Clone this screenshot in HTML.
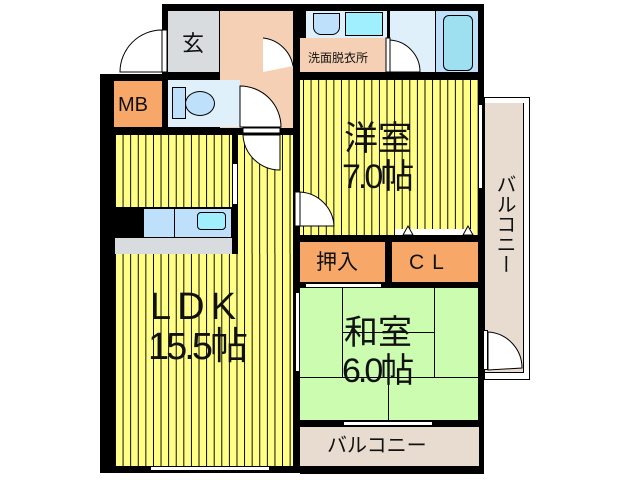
<!DOCTYPE html>
<html><head><meta charset="utf-8"><style>
body{margin:0;width:638px;height:480px;background:#fff;position:relative;overflow:hidden;font-family:"Liberation Sans","Noto Sans CJK JP",sans-serif;}
div{position:absolute;box-sizing:border-box;}
.k{background:#000}
.st{background-color:#ffff88;background-image:linear-gradient(90deg,#000 0 1px,transparent 1px);background-size:7.6px 100%;background-repeat:repeat-x;}
.t{color:#111;white-space:nowrap;line-height:1;}
svg{position:absolute;left:0;top:0}
</style></head><body>
<div class="k" style="left:162px;top:4px;width:322px;height:469px"></div>
<div class="k" style="left:100px;top:74px;width:68px;height:399px"></div>
<!-- genkan -->
<div style="left:168px;top:11px;width:52px;height:61px;background:#d9dcdf;border-right:1px solid #000"></div>
<div class="t" style="left:182px;top:33px;font-size:22px">玄</div>
<!-- hall -->
<div style="left:220px;top:11px;width:73px;height:117px;background:#f6d0b4"></div>
<!-- senmen -->
<div style="left:300px;top:11px;width:87px;height:61px;background:#f6d0b4"></div>
<div style="left:300px;top:11px;width:87px;height:27px;background:#dff0fb"></div>
<div style="left:313px;top:13px;width:27px;height:22px;background:#bfe0fb;border:1px solid #000;border-radius:0 0 8px 8px"></div>
<div style="left:345px;top:12px;width:38px;height:24px;background:#9fefff;border:1px solid #000"></div>
<div class="k" style="left:293px;top:11px;width:13px;height:27px"></div>
<div class="t" style="left:308px;top:52px;font-size:12px">洗面脱衣所</div>
<!-- bath -->
<div style="left:390px;top:11px;width:88px;height:61px;background:#dff0fb"></div>
<div style="left:435px;top:11px;width:43px;height:61px;background:#bfe0fb;border-left:1px solid #000"></div>
<div style="left:443px;top:15px;width:30px;height:56px;background:#9fe0f0;border:1px solid #000;border-radius:6px"></div>
<!-- MB -->
<div style="left:114px;top:81px;width:48px;height:46px;background:#f7a868"></div>
<div class="t" style="left:118px;top:95px;font-size:20px">MB</div>
<!-- toilet -->
<div style="left:168px;top:80px;width:72px;height:47px;background:#dff0fb"></div>
<div style="left:172px;top:87px;width:14px;height:32px;background:#bfe0fb;border:1px solid #000"></div>
<div style="left:185px;top:91px;width:30px;height:25px;background:#bfe0fb;border:1px solid #000;border-radius:50%"></div>
<!-- LDK -->
<div class="st" style="left:115px;top:135px;width:117px;height:72px;background-position:0 0"></div>
<div class="st" style="left:238px;top:135px;width:55px;height:331px;background-position:6px 0"></div>
<div class="st" style="left:115px;top:254px;width:178px;height:212px;background-position:0 0"></div>
<div style="left:232px;top:163px;width:6px;height:42px;background:#fff;border:1px solid #000"></div>
<div class="k" style="left:115px;top:207px;width:28px;height:31px"></div>
<div style="left:143px;top:208px;width:89px;height:30px;background:#bfe0fb;border:1px solid #000"></div>
<div style="left:174px;top:208px;width:1px;height:30px;background:#000"></div>
<div style="left:197px;top:212px;width:29px;height:18px;background:#9fefff;border:1px solid #000;border-radius:4px"></div>
<div style="left:115px;top:238px;width:117px;height:16px;background:#d9dcdf"></div>
<div class="t" style="left:150px;top:288px;font-size:38px;letter-spacing:6px">LDK</div>
<div class="t" style="left:148px;top:328px;font-size:38px;letter-spacing:-3px">15.5帖</div>
<div style="left:150px;top:466px;width:120px;height:5px;background:#fff;border:1px solid #000"></div>
<!-- youshitsu -->
<div class="st" style="left:300px;top:80px;width:178px;height:155px;background-position:3px 0"></div>
<div style="left:395px;top:229px;width:78px;height:6px;background:#fff"></div>
<div class="t" style="left:344px;top:122px;font-size:34px">洋室</div>
<div class="t" style="left:342px;top:160px;font-size:34px;letter-spacing:-3px">7.0帖</div>
<div style="left:478px;top:104px;width:5px;height:85px;background:#fff;border:1px solid #000"></div>
<!-- oshiire / CL -->
<div style="left:300px;top:242px;width:85px;height:40px;background:#f7a868"></div>
<div style="left:392px;top:242px;width:86px;height:40px;background:#f7a868"></div>
<div class="t" style="left:316px;top:252px;font-size:21px">押入</div>
<div class="t" style="left:409px;top:252px;font-size:21px;letter-spacing:8px">CL</div>
<!-- washitsu -->
<div style="left:300px;top:288px;width:178px;height:132px;background:#ccfcb0"></div>
<div style="left:342px;top:288px;width:1px;height:89px;background:#000"></div>
<div style="left:434px;top:288px;width:1px;height:89px;background:#000"></div>
<div style="left:342px;top:332px;width:92px;height:1px;background:#000"></div>
<div style="left:300px;top:377px;width:178px;height:1px;background:#000"></div>
<div style="left:388px;top:377px;width:1px;height:43px;background:#000"></div>
<div style="left:305px;top:283px;width:77px;height:5px;background:#fff;border:1px solid #000"></div>
<div style="left:343px;top:421px;width:90px;height:5px;background:#fff;border:1px solid #000"></div>
<div style="left:295px;top:292px;width:5px;height:80px;background:#fff;border:1px solid #000"></div>
<div class="t" style="left:344px;top:316px;font-size:34px">和室</div>
<div class="t" style="left:342px;top:354px;font-size:34px;letter-spacing:-3px">6.0帖</div>
<!-- bottom balcony -->
<div style="left:300px;top:427px;width:180px;height:39px;background:#e8dcd0;border-right:1px solid #000"></div>
<div style="left:300px;top:473px;width:184px;height:1px;background:#000"></div>
<div style="left:483px;top:427px;width:1px;height:47px;background:#000"></div>
<div class="t" style="left:327px;top:436px;font-size:20px">バルコニー</div>
<!-- right balcony -->
<div style="left:484px;top:97px;width:46px;height:283px;border:1px solid #000;background:#fff"></div>
<div style="left:485px;top:103px;width:39px;height:270px;background:#e8dcd0;border-right:1px solid #000;border-bottom:1px solid #000"></div>
<div class="t" style="left:494px;top:174px;font-size:20px;writing-mode:vertical-rl">バルコニー</div>
<div style="left:483px;top:330px;width:5px;height:40px;background:#fff;border:1px solid #000"></div>
<!-- door arcs -->
<svg width="638" height="480" viewBox="0 0 638 480">
<g fill="#fff" stroke="#000" stroke-width="1">
<path d="M162 72 L120 72 A42 42 0 0 1 162 30 Z"/>
<rect x="162" y="30" width="5" height="42"/>
<path d="M263 72 L263 38 A34 34 0 0 1 293 66 Z" stroke="none"/>
<path d="M263 38 A34 34 0 0 1 293 66" fill="none"/>
<path d="M390 72 L390 40 A32 32 0 0 1 420 72 Z"/>
<rect x="386" y="38" width="4" height="34"/>
<path d="M240 127 L240 86 A41 41 0 0 1 281 127 Z"/>
<path d="M280 135 L243 135 A37 37 0 0 0 280 170 Z"/>
<rect x="243" y="128" width="37" height="5"/>
<path d="M300 212 L300 192 A36 36 0 0 1 334 226 L300 226 Z"/>
<rect x="295" y="192" width="5" height="34"/>
<path d="M488 370 L488 332 A36 36 0 0 1 522 368 Z"/>
<path d="M403 235 L408 226 L413 235 Z"/>
<path d="M463 235 L468 226 L473 235 Z"/>
</g>
</svg>
</body></html>
